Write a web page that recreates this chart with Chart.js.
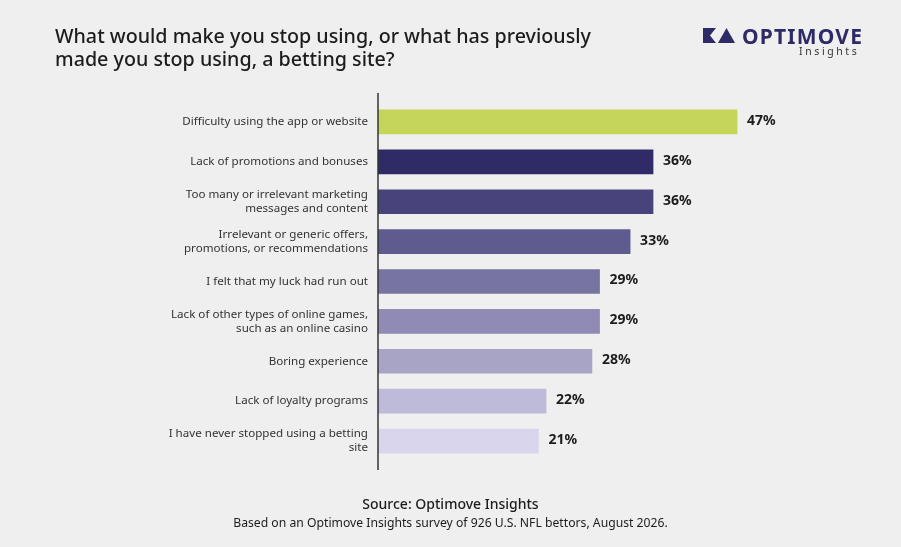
<!DOCTYPE html>
<html>
<head>
<meta charset="utf-8">
<script src="https://cdn.jsdelivr.net/npm/chart.js@4.4.1/dist/chart.umd.min.js"></script>
<style>
  html, body { margin: 0; padding: 0; background: #efefef; }
  #wrap { position: relative; width: 901px; height: 547px; overflow: hidden; font-family: "Noto Sans", sans-serif; }
  #chart { position: absolute; left: 0; top: 0; }
  #title { position: absolute; left: 55px; top: 24px; font-size: 19.7px; line-height: 23px; font-weight: 500; color: #1c1c1c; }
  #logo { position: absolute; left: 703px; top: 26px; width: 170px; height: 36px; }
  #brand { position: absolute; left: 742px; top: 22px; font-size: 21px; font-weight: 700; letter-spacing: 1.2px; color: #2e2a66; }
  #sub { position: absolute; left: 799px; top: 44px; font-size: 10.5px; letter-spacing: 2.6px; color: #333; }
  #source { position: absolute; left: 0; width: 901px; top: 494px; text-align: center; font-size: 14px; font-weight: 500; color: #1c1c1c; }
  #note { position: absolute; left: 0; width: 901px; top: 514px; text-align: center; font-size: 12.2px; color: #1c1c1c; }
</style>
</head>
<body>
<div id="wrap">
  <canvas id="chart" width="901" height="547"></canvas>
  <div id="title">What would make you stop using, or what has previously<br>made you stop using, a betting site?</div>
  <svg id="logo" viewBox="0 0 170 36">
    <polygon points="0,2 13,2 7,9.5 13,17 0,17" fill="#2e2a66"/>
    <polygon points="15,17 23.5,2 32,17" fill="#2e2a66"/>
  </svg>
  <div id="brand">OPTIMOVE</div>
  <div id="sub">Insights</div>
  <div id="source">Source: Optimove Insights</div>
  <div id="note">Based on an Optimove Insights survey of 926 U.S. NFL bettors, August 2026.</div>
</div>
<script>
const categories = [
    ["Difficulty using the app or website"],
    ["Lack of promotions and bonuses"],
    ["Too many or irrelevant marketing", "messages and content"],
    ["Irrelevant or generic offers,", "promotions, or recommendations"],
    ["I felt that my luck had run out"],
    ["Lack of other types of online games,", "such as an online casino"],
    ["Boring experience"],
    ["Lack of loyalty programs"],
    ["I have never stopped using a betting", "site"]
]
const values = [47, 36, 36, 33, 29, 29, 28, 22, 21]
const barColors = ["#c4d55a", "#2f2b67", "#48437a", "#605b8f", "#7774a2", "#8f8bb4", "#a8a4c6", "#bebad9", "#d8d5ec"]

// axis line a bit longer than the bars, and the % labels at the bar ends
const extras = {
    id: 'extras',
    afterDatasetsDraw(chart) {
        const c = chart.ctx
        const area = chart.chartArea
        c.save()
        c.strokeStyle = '#333'
        c.lineWidth = 1.5
        c.beginPath()
        c.moveTo(area.left, area.top - 9)
        c.lineTo(area.left, area.bottom + 9)
        c.stroke()

        c.fillStyle = '#1c1c1c'
        c.font = 'bold 14px "Noto Sans", sans-serif'
        c.textBaseline = 'middle'
        chart.getDatasetMeta(0).data.forEach((bar, i) => {
            c.fillText(values[i] + '%', bar.x + 10, bar.y - 1)
        })
        c.restore()
    }
}

const ctx = document.getElementById('chart').getContext('2d')

const chart = new Chart(ctx, {
    type: 'bar',
    data: {
        labels: categories,
        datasets: [{
            data: values,
            backgroundColor: barColors,
            barThickness: 24
        }]
    },
    options: {
        indexAxis: 'y',
        responsive: false,
        animation: false,
        layout: { padding: { top: 102, bottom: 86, right: 141, left: 0 } },
        plugins: {
            legend: { display: false },
            tooltip: { enabled: false }
        },
        scales: {
            x: {
                display: false,
                min: 0,
                max: 50
            },
            y: {
                afterFit(scale) { scale.width = 378 },
                grid: { display: false },
                border: { display: false },
                ticks: {
                    color: '#333',
                    padding: 2,
                    font: { family: '"Noto Sans", sans-serif', size: 11.6 }
                }
            }
        }
    },
    plugins: [extras]
})
</script>
</body>
</html>
